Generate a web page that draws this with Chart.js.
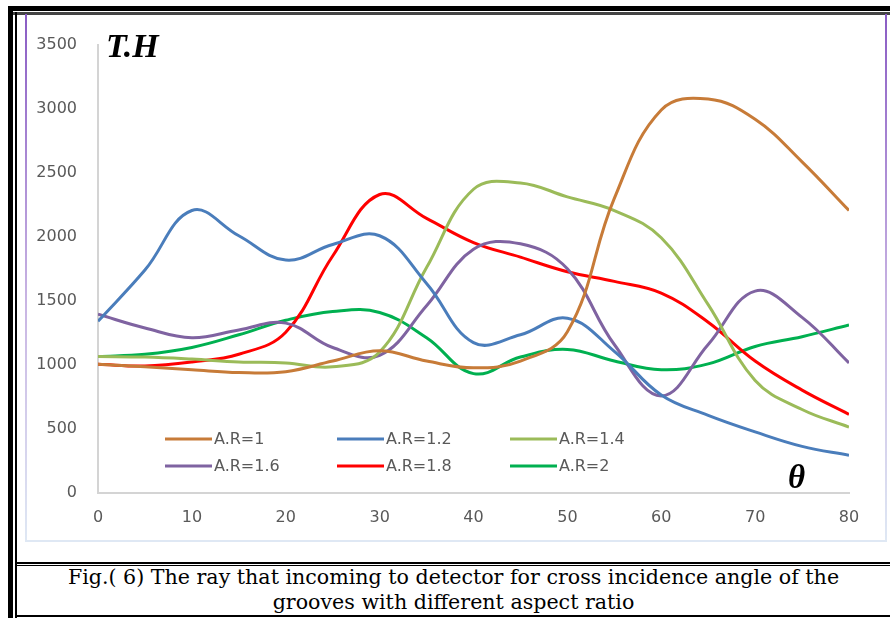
<!DOCTYPE html>
<html>
<head>
<meta charset="utf-8">
<script src="https://cdn.jsdelivr.net/npm/chart.js@4"></script>
<style>
  body { margin: 0; background: #fff; }
  #page { position: relative; width: 890px; height: 618px; overflow: hidden; background: #fff; }
  .ln { position: absolute; background: #000; }
  #box { position: absolute; left: 25px; top: 14px; width: 862px; height: 528px; }
  #chart { position: absolute; left: 0; top: 0; }
  .edge { position: absolute; top: 0; width: 2px; height: 528px;
          background: linear-gradient(#8a5cc4, #c9b5e3 55%, #dfe8f4); }
  .title { position: absolute; font-family: "Liberation Serif", serif; font-weight: bold; font-style: italic; color: #000; }
  #caption { position: absolute; left: 17px; top: 565px; width: 873px; text-align: center;
             font-family: "DejaVu Serif", serif; font-size: 20.6px; line-height: 25px; color: #000; }
</style>
</head>
<body>
<div id="page">
  <div class="ln" style="left:8px;top:6px;width:882px;height:5px"></div>
  <div class="ln" style="left:13px;top:12px;width:877px;height:3px;background:#444"></div>
  <div class="ln" style="left:8px;top:6px;width:5px;height:612px"></div>
  <div class="ln" style="left:15px;top:12px;width:2px;height:606px"></div>
  <div class="ln" style="left:15px;top:615px;width:875px;height:2px"></div>
  <div class="ln" style="left:17px;top:562px;width:873px;height:2px"></div>
  <div class="ln" style="left:17px;top:565px;width:873px;height:1px"></div>

  <div id="box">
    <canvas id="chart" width="862" height="528"></canvas>
    <div class="edge" style="left:0"></div>
    <div class="edge" style="left:860px"></div>
    <div style="position:absolute;left:0;top:526px;width:862px;height:2px;background:#dfe8f4"></div>
  </div>

  <div class="title" style="left:106px;top:27px;font-size:34px">T.H</div>
  <div class="title" style="left:788px;top:459px;font-size:33px">θ</div>

  <div id="caption">Fig.( 6) The ray that incoming to detector for cross incidence angle of the<br>grooves with different aspect ratio</div>
</div>

<script>
// incidence angle (degrees)
const angles = [0, 5, 10, 15, 20, 25, 30, 35, 40, 45, 50, 55, 60, 65, 70, 75, 80];

const seriesNames = ['A.R=1', 'A.R=1.2', 'A.R=1.4', 'A.R=1.6', 'A.R=1.8', 'A.R=2'];
const seriesColors = ['#c77b38', '#4a7dbb', '#9bbb59', '#7f63a1', '#ff0000', '#00b050'];

const ar1  = [1005, 985, 962, 940, 947, 1030, 1110, 1030, 977, 1030, 1258, 2300, 2990, 3075, 2917, 2585, 2205];
const ar12 = [1340, 1740, 2205, 2008, 1818, 1940, 2008, 1636, 1174, 1235, 1364, 1106, 765, 606, 477, 364, 295];
const ar14 = [1065, 1061, 1045, 1023, 1015, 985, 1100, 1760, 2371, 2420, 2311, 2205, 1992, 1470, 879, 652, 515];
const ar16 = [1395, 1288, 1212, 1273, 1326, 1136, 1075, 1462, 1902, 1945, 1750, 1159, 758, 1159, 1576, 1371, 1015];
const ar18 = [1005, 992, 1023, 1083, 1255, 1850, 2330, 2144, 1955, 1841, 1727, 1652, 1561, 1333, 1030, 803, 614];
const ar2  = [1065, 1083, 1136, 1235, 1348, 1417, 1409, 1212, 932, 1061, 1121, 1030, 962, 1008, 1144, 1220, 1311];

const allSeries = [ar1, ar12, ar14, ar16, ar18, ar2];

const yTicks = [0, 500, 1000, 1500, 2000, 2500, 3000, 3500];
const xTicks = [0, 10, 20, 30, 40, 50, 60, 70, 80];

Chart.defaults.font.family = '"DejaVu Sans", sans-serif';
Chart.defaults.color = '#595959';

// legend drawn inside the plot, two rows of three
const insideLegend = {
    id: 'insideLegend',
    afterDraw(chart) {
        const ctx = chart.ctx;
        const cols = [140, 312, 485];
        const rows = [425, 452];
        ctx.save();
        ctx.font = '16px "DejaVu Sans", sans-serif';
        ctx.textBaseline = 'middle';
        chart.data.datasets.forEach((ds, i) => {
            const x = cols[i % 3];
            const y = rows[Math.floor(i / 3)];
            ctx.strokeStyle = ds.borderColor;
            ctx.lineWidth = 3;
            ctx.beginPath();
            ctx.moveTo(x, y);
            ctx.lineTo(x + 47, y);
            ctx.stroke();
            ctx.fillStyle = '#595959';
            ctx.fillText(ds.label, x + 49, y + 1);
        });
        ctx.restore();
    }
};

new Chart(document.getElementById('chart'), {
    type: 'line',
    data: {
        datasets: allSeries.map((vals, i) => ({
            label: seriesNames[i],
            data: vals.map((v, j) => ({ x: angles[j], y: v })),
            borderColor: seriesColors[i],
            backgroundColor: seriesColors[i],
            borderWidth: 3,
            pointRadius: 0,
            tension: 0.4,
            fill: false
        }))
    },
    options: {
        responsive: false,
        animation: false,
        devicePixelRatio: 1,
        layout: { padding: { top: 17, right: 38, left: 0, bottom: 0 } },
        plugins: { legend: { display: false }, tooltip: { enabled: false } },
        scales: {
            x: {
                type: 'linear',
                min: 0,
                max: 80,
                afterBuildTicks: s => { s.ticks = xTicks.map(v => ({ value: v })); },
                afterFit: s => { s.height = 49; },
                grid: { display: false, drawTicks: false },
                border: { color: '#d4d4d4', width: 2 },
                ticks: { padding: 15, font: { size: 16 }, callback: v => String(v) }
            },
            y: {
                min: 0,
                max: 3500,
                afterBuildTicks: s => { s.ticks = yTicks.map(v => ({ value: v })); },
                afterFit: s => { s.width = 73; },
                grid: { display: false, drawTicks: false },
                border: { color: '#d4d4d4', width: 2 },
                ticks: { padding: 21, font: { size: 16 }, callback: v => String(v) }
            }
        }
    },
    plugins: [insideLegend]
});
</script>
</body>
</html>
